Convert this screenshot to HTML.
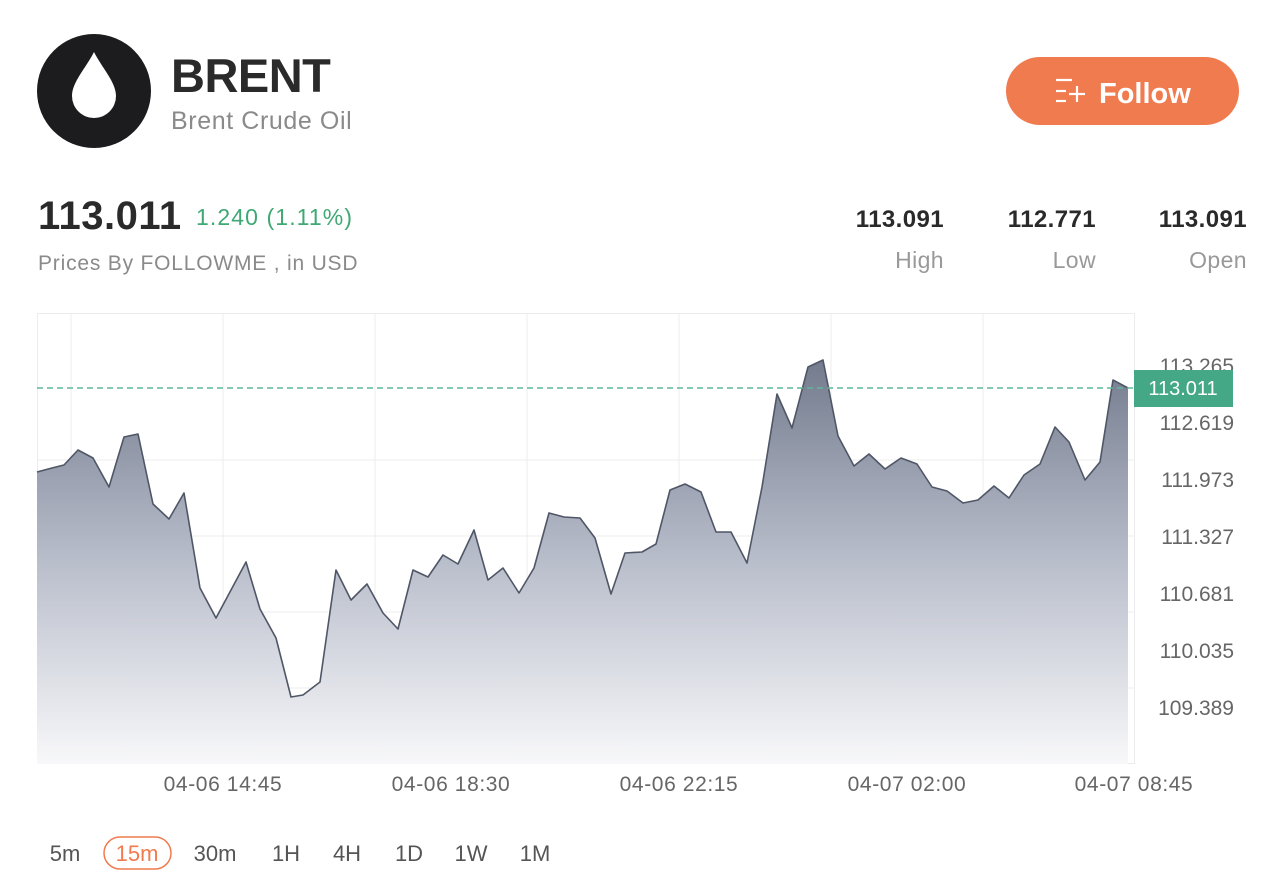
<!DOCTYPE html>
<html><head><meta charset="utf-8"><style>
html,body{margin:0;padding:0;background:#fff;}
svg{display:block;font-family:"Liberation Sans",sans-serif;}
</style></head><body>
<svg width="1280" height="894" viewBox="0 0 1280 894" xmlns="http://www.w3.org/2000/svg">
<defs>
<linearGradient id="g" x1="0" y1="360" x2="0" y2="764" gradientUnits="userSpaceOnUse">
<stop offset="0" stop-color="#737b8d"/>
<stop offset="0.5" stop-color="#b9becb"/>
<stop offset="1" stop-color="#f8f8fa"/>
</linearGradient>
</defs>
<circle cx="94" cy="91" r="57" fill="#1c1c1e"/>
<path d="M94 52 C86 68 72 82 72 96 A22 22 0 0 0 116 96 C116 82 102 68 94 52 Z" fill="#fff"/>
<text x="171" y="92" font-size="47" font-weight="bold" fill="#2a2a2a" letter-spacing="-0.5">BRENT</text>
<text x="171" y="129" font-size="25" fill="#8a8a8a" letter-spacing="0.6">Brent Crude Oil</text>
<rect x="1006" y="57" width="233" height="68" rx="34" fill="#f07b4f"/>
<g stroke="#fff" stroke-width="2.2">
<line x1="1056" y1="80" x2="1072" y2="80"/><line x1="1056" y1="91" x2="1066" y2="91"/><line x1="1056" y1="101" x2="1066" y2="101"/>
<line x1="1069" y1="94" x2="1085" y2="94"/><line x1="1077" y1="86" x2="1077" y2="102"/>
</g>
<text x="1099" y="103" font-size="29" font-weight="bold" fill="#fff">Follow</text>
<text x="38" y="229" font-size="40" font-weight="bold" fill="#2a2a2a" letter-spacing="0.5">113.011</text>
<text x="196" y="225" font-size="23" fill="#3fa874" letter-spacing="1.1">1.240 (1.11%)</text>
<text x="38" y="270" font-size="21" fill="#8a8a8a" letter-spacing="0.8">Prices By FOLLOWME , in USD</text>
<g font-size="24" font-weight="bold" fill="#2a2a2a" text-anchor="end" letter-spacing="0.4">
<text x="944" y="227">113.091</text><text x="1096" y="227">112.771</text><text x="1247" y="227">113.091</text>
</g>
<g font-size="23" fill="#999" text-anchor="end" letter-spacing="0.4">
<text x="944" y="268">High</text><text x="1096" y="268">Low</text><text x="1247" y="268">Open</text>
</g>
<g stroke="#ececec" stroke-width="1" fill="none">
<rect x="37.5" y="313.5" width="1097" height="450"/>
<line x1="71" y1="313" x2="71" y2="764"/><line x1="223" y1="313" x2="223" y2="764"/><line x1="375" y1="313" x2="375" y2="764"/><line x1="527" y1="313" x2="527" y2="764"/><line x1="679" y1="313" x2="679" y2="764"/><line x1="831" y1="313" x2="831" y2="764"/><line x1="983" y1="313" x2="983" y2="764"/>
<line x1="37" y1="460" x2="1134" y2="460"/><line x1="37" y1="536" x2="1134" y2="536"/><line x1="37" y1="612" x2="1134" y2="612"/><line x1="37" y1="688" x2="1134" y2="688"/>
</g>
<path d="M37,472 L52,468 L64,465 L78,450 L93,458 L109,487 L124,437 L138,434 L153,504 L169,519 L184,493 L200,588 L216,618 L246,562 L260,609 L276,638 L291,697 L303,695 L320,682 L336,570 L351,600 L367,584 L383,613 L398,629 L413,570 L428,577 L443,555 L458,564 L474,530 L488,580 L503,568 L519,593 L534,568 L549,513 L564,517 L580,518 L595,538 L611,594 L625,553 L642,552 L656,544 L670,490 L685,484 L701,492 L716,532 L731,532 L747,563 L762,487 L777,394 L792,428 L808,367 L823,360 L838,436 L854,466 L869,454 L885,469 L901,458 L917,464 L932,487 L947,491 L963,503 L978,500 L994,486 L1009,498 L1024,475 L1040,464 L1055,427 L1069,442 L1085,480 L1100,462 L1113,380 L1128,388 L1128,764 L37,764 Z" fill="url(#g)"/>
<path d="M37,472 L52,468 L64,465 L78,450 L93,458 L109,487 L124,437 L138,434 L153,504 L169,519 L184,493 L200,588 L216,618 L246,562 L260,609 L276,638 L291,697 L303,695 L320,682 L336,570 L351,600 L367,584 L383,613 L398,629 L413,570 L428,577 L443,555 L458,564 L474,530 L488,580 L503,568 L519,593 L534,568 L549,513 L564,517 L580,518 L595,538 L611,594 L625,553 L642,552 L656,544 L670,490 L685,484 L701,492 L716,532 L731,532 L747,563 L762,487 L777,394 L792,428 L808,367 L823,360 L838,436 L854,466 L869,454 L885,469 L901,458 L917,464 L932,487 L947,491 L963,503 L978,500 L994,486 L1009,498 L1024,475 L1040,464 L1055,427 L1069,442 L1085,480 L1100,462 L1113,380 L1128,388" fill="none" stroke="#4f5666" stroke-width="1.6" stroke-linejoin="round"/>
<line x1="37" y1="388" x2="1134" y2="388" stroke="#5fb89c" stroke-width="1.5" stroke-dasharray="6,4"/>
<g font-size="21" fill="#666" text-anchor="end">
<text x="1234" y="373">113.265</text><text x="1234" y="430">112.619</text><text x="1234" y="487">111.973</text><text x="1234" y="544">111.327</text><text x="1234" y="601">110.681</text><text x="1234" y="658">110.035</text><text x="1234" y="715">109.389</text>
</g>
<rect x="1134" y="370" width="99" height="37" fill="#44a887"/>
<text x="1183" y="395" font-size="20" fill="#fff" text-anchor="middle">113.011</text>
<g font-size="21" fill="#666" text-anchor="middle" letter-spacing="0.6">
<text x="223" y="791">04-06 14:45</text><text x="451" y="791">04-06 18:30</text><text x="679" y="791">04-06 22:15</text><text x="907" y="791">04-07 02:00</text><text x="1134" y="791">04-07 08:45</text>
</g>
<rect x="104" y="837" width="67" height="32" rx="16" fill="none" stroke="#f07b4f" stroke-width="1.5"/>
<g font-size="22" fill="#555" text-anchor="middle">
<text x="65" y="861">5m</text><text x="137" y="861" fill="#f07b4f">15m</text><text x="215" y="861">30m</text><text x="286" y="861">1H</text><text x="347" y="861">4H</text><text x="409" y="861">1D</text><text x="471" y="861">1W</text><text x="535" y="861">1M</text>
</g>
</svg>
</body></html>
